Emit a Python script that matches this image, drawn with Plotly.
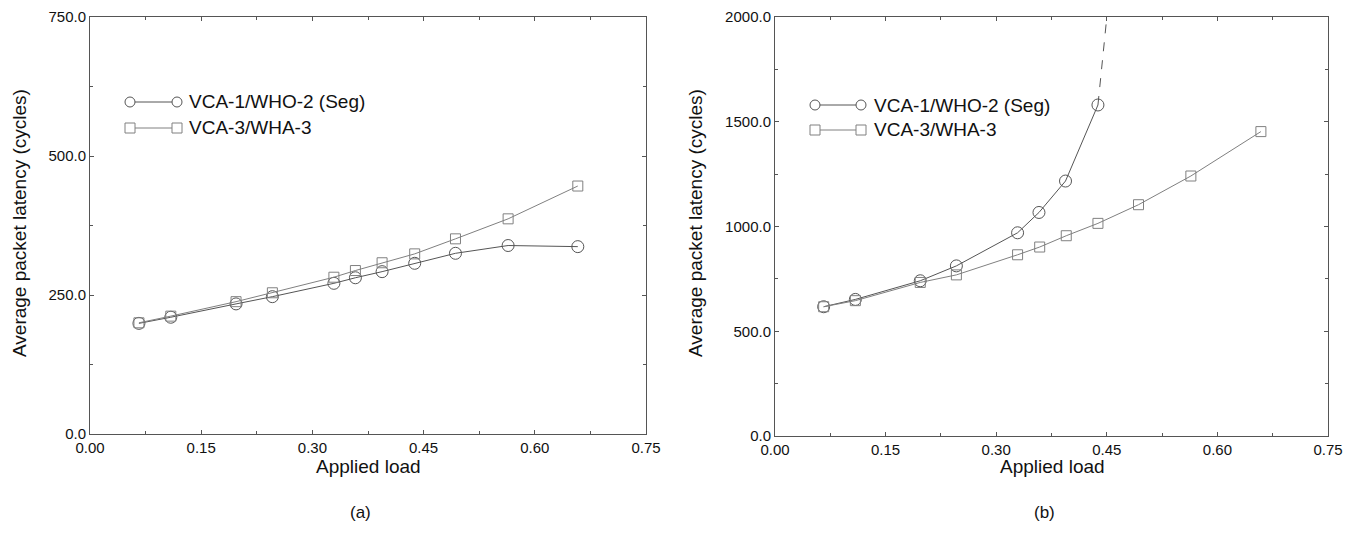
import plotly.graph_objects as go

# ---- data ----
load_a = [0.066, 0.109, 0.197, 0.246, 0.329, 0.358, 0.394, 0.438, 0.493, 0.564, 0.658]
seg_a = [199, 210, 234, 247, 271, 281, 292, 307, 325, 339, 337]
wha_a = [200, 212, 238, 254, 282, 294, 308, 324, 351, 387, 446]

load_b = [0.066, 0.109, 0.197, 0.246, 0.329, 0.358, 0.394, 0.438]
seg_b = [617, 652, 741, 812, 970, 1067, 1217, 1580]
seg_b_tail_x = [0.438, 0.493]
seg_b_tail_y = [1580, 3500]
load_b2 = [0.066, 0.109, 0.197, 0.246, 0.329, 0.359, 0.395, 0.438, 0.493, 0.564, 0.659]
wha_b = [617, 646, 733, 769, 865, 902, 956, 1015, 1104, 1241, 1453]

names = ["VCA-1/WHO-2 (Seg)", "VCA-3/WHA-3"]
xticks = [0.0, 0.15, 0.30, 0.45, 0.60, 0.75]
xtitle = "Applied load"
ytitle = "Average packet latency (cycles)"

FONT = "Liberation Sans, Arial, Helvetica, sans-serif"
C1 = "#555555"
C2 = "#808080"
AX = "#555555"

fig = go.Figure()

def add(x, y, sym, color, xa, ya, size, dash="solid"):
    fig.add_trace(go.Scatter(
        x=x, y=y, mode="lines+markers" if dash == "solid" else "lines",
        line=dict(color=color, width=1, dash=dash),
        marker=dict(symbol=sym, size=size, color=color, line=dict(width=1)),
        xaxis=xa, yaxis=ya, showlegend=False, cliponaxis=True))

add(load_a, seg_a, "circle-open", C1, "x", "y", 12)
add(load_a, wha_a, "square-open", C2, "x", "y", 10)
add(seg_b_tail_x, seg_b_tail_y, "circle-open", C1, "x2", "y2", 12, dash="dash")
add(load_b, seg_b, "circle-open", C1, "x2", "y2", 12)
add(load_b2, wha_b, "square-open", C2, "x2", "y2", 10)

# page has an 8px body margin: work in page pixels and convert
OFF = 8
W, H = 1357 - OFF, 533 - OFF
def px(x): return (x - OFF) / W
def py(y): return 1 - (y - OFF) / H

axcommon = dict(showline=True, linecolor=AX, linewidth=1, mirror="ticks",
                ticks="inside", ticklen=4, tickcolor=AX, showgrid=False,
                zeroline=False, automargin=False, ticklabeloverflow="allow",
                tickfont=dict(family=FONT, size=15, color="#111"))
mx = dict(dtick=0.075, ticks="inside", ticklen=3, tickcolor=AX)

fig.update_layout(
    width=W, height=H, margin=dict(l=0, r=0, t=0, b=0),
    paper_bgcolor="white", plot_bgcolor="white",
    xaxis=dict(domain=[px(90), px(646)], range=[0, 0.75], tickvals=xticks,
               tickformat=".2f", minor=mx, anchor="y", **axcommon),
    yaxis=dict(domain=[py(434), py(17)], range=[0, 750], dtick=250, tickformat=".1f",
               minor=dict(dtick=125, ticks="inside", ticklen=3, tickcolor=AX),
               anchor="x", **axcommon),
    xaxis2=dict(domain=[px(775), px(1328)], range=[0, 0.75], tickvals=xticks,
                tickformat=".2f", minor=mx, anchor="y2", **axcommon),
    yaxis2=dict(domain=[py(436), py(17)], range=[0, 2000], dtick=500, tickformat=".1f",
                minor=dict(dtick=250, ticks="inside", ticklen=3, tickcolor=AX),
                anchor="x2", **axcommon),
)

def text(x, y, s, size, angle=0, xanchor="center"):
    fig.add_annotation(x=px(x), y=py(y), xref="paper", yref="paper", text=s,
                       showarrow=False, textangle=angle, xanchor=xanchor, yanchor="middle",
                       font=dict(family=FONT, size=size, color="#111"))

# axis titles
text(368, 466, xtitle, 19)
text(1052, 466, xtitle, 19)
text(19, 223, ytitle, 19, angle=-90)
text(695, 223, ytitle, 19, angle=-90)

# custom legends (marker at both ends of a line, as in the original)
def legend(x1, x2, xt, ys):
    for i, (y, name) in enumerate(zip(ys, names)):
        col = C1 if i == 0 else C2
        fig.add_shape(type="line", xref="paper", yref="paper",
                      x0=px(x1), x1=px(x2), y0=py(y), y1=py(y),
                      line=dict(color=col, width=1))
        r = 5
        for cx in (x1, x2):
            fig.add_shape(type="circle" if i == 0 else "rect", xref="paper", yref="paper",
                          x0=px(cx - r), x1=px(cx + r), y0=py(y + r), y1=py(y - r),
                          line=dict(color=col, width=1), fillcolor="white")
        text(xt, y, name, 19, xanchor="left")

legend(130, 177, 187, [102, 128])
legend(815, 861, 872, [105, 130])

text(360, 512, "(a)", 17)
text(1044, 512, "(b)", 17)

fig.write_html("out.html")
